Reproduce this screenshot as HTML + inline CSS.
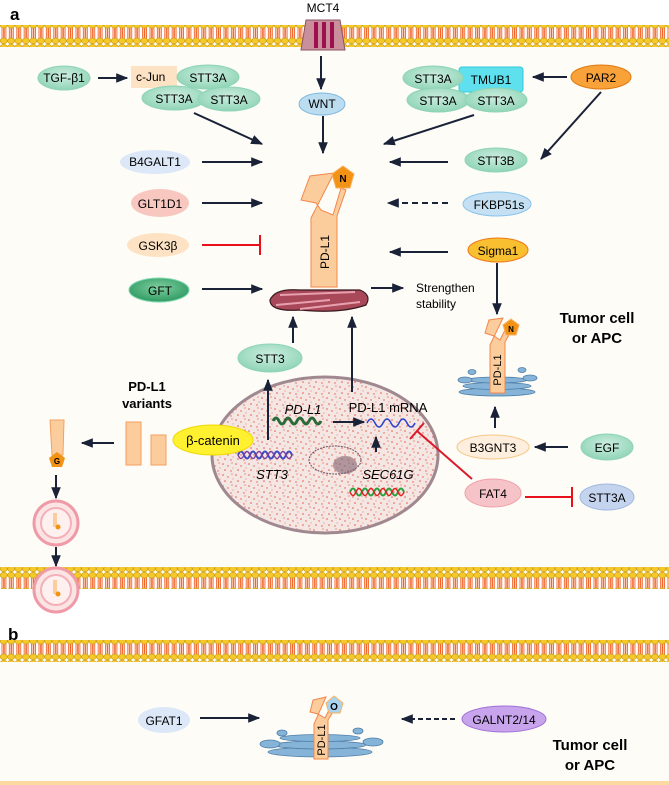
<!DOCTYPE html>
<html><head><meta charset="utf-8"><style>
html,body{margin:0;padding:0;background:#fff}
svg{display:block}
text{font-family:"Liberation Sans",Arial,sans-serif}
</style></head><body>
<svg width="669" height="785" viewBox="0 0 669 785" xmlns="http://www.w3.org/2000/svg">
<defs>
<pattern id="mem" x="0" y="0" width="7.4" height="22" patternUnits="userSpaceOnUse">
<rect x="2" y="5" width="1.6" height="12" rx="0.8" fill="none" stroke="#f0642a" stroke-width="0.9"/>
<rect x="4.3" y="5" width="1.6" height="12" rx="0.8" fill="none" stroke="#f0642a" stroke-width="0.9"/>
<ellipse cx="3.7" cy="3.2" rx="3.5" ry="2.9" fill="#f6c92a" stroke="#c99a10" stroke-width="0.6"/>
<ellipse cx="3.7" cy="18.8" rx="3.5" ry="2.9" fill="#f6c92a" stroke="#c99a10" stroke-width="0.6"/>
</pattern>
<pattern id="spk" x="0" y="0" width="13" height="11" patternUnits="userSpaceOnUse">
<rect width="13" height="11" fill="#f4e6e2"/>
<circle cx="2" cy="2" r="0.8" fill="#e85a4a"/><circle cx="7" cy="4" r="0.7" fill="#e85a4a"/>
<circle cx="11" cy="1" r="0.6" fill="#e85a4a"/><circle cx="4" cy="8" r="0.8" fill="#e85a4a"/>
<circle cx="10" cy="9" r="0.7" fill="#e85a4a"/><circle cx="12" cy="6" r="0.5" fill="#e85a4a"/>
</pattern>
<marker id="ar" viewBox="0 0 10 10" refX="9" refY="5" markerWidth="6" markerHeight="6" orient="auto"><path d="M0,1 L10,5 L0,9 z" fill="#1a2238"/></marker>
<radialGradient id="gg" cx="50%" cy="40%" r="60%"><stop offset="0" stop-color="#cdeee0"/><stop offset="1" stop-color="#8fd4b6"/></radialGradient>
<radialGradient id="gd" cx="50%" cy="40%" r="60%"><stop offset="0" stop-color="#7fcfa0"/><stop offset="1" stop-color="#2f9a62"/></radialGradient>
</defs>
<!-- backgrounds -->
<rect x="0" y="0" width="669" height="785" fill="#fff"/>
<rect x="0" y="40" width="669" height="540" fill="#fdfcf7"/>
<rect x="0" y="655" width="669" height="127" fill="#fdfcf7"/>
<rect x="0" y="781" width="669" height="4" fill="#fbd9a0"/>
<!-- membranes -->
<rect x="0" y="25" width="669" height="22" fill="url(#mem)"/>
<rect x="0" y="567" width="669" height="22" fill="url(#mem)"/>
<rect x="0" y="640" width="669" height="22" fill="url(#mem)"/>
<text x="10" y="20" font-size="17" font-weight="bold">a</text>
<text x="8" y="640" font-size="17" font-weight="bold">b</text>
<!-- MCT4 -->
<text x="323" y="12" font-size="12" text-anchor="middle">MCT4</text>
<path d="M306,20 L340,20 L345,50 L301,50 Z" fill="#c9909c" stroke="#8a5565"/>
<rect x="314" y="22" width="4" height="26" fill="#a01050"/><rect x="322" y="22" width="4" height="26" fill="#a01050"/><rect x="330" y="22" width="4" height="26" fill="#a01050"/>
<line x1="321" y1="56" x2="321" y2="89" stroke="#1a2238" stroke-width="2" marker-end="url(#ar)"/>
<!-- top left cluster -->
<ellipse cx="64" cy="78" rx="26" ry="12" fill="url(#gg)" stroke="#8fd4b6"/>
<text x="64" y="82" font-size="12" text-anchor="middle">TGF-β1</text>
<line x1="98" y1="78" x2="127" y2="78" stroke="#1a2238" stroke-width="2" marker-end="url(#ar)"/>
<rect x="131" y="66" width="46" height="22" fill="#fde2c4"/>
<text x="136" y="81" font-size="12">c-Jun</text>
<ellipse cx="208" cy="77" rx="31" ry="12" fill="url(#gg)" stroke="#8fd4b6"/>
<text x="208" y="82" font-size="12" text-anchor="middle">STT3A</text>
<ellipse cx="174" cy="98" rx="32" ry="12" fill="url(#gg)" stroke="#8fd4b6"/>
<text x="174" y="103" font-size="12" text-anchor="middle">STT3A</text>
<ellipse cx="229" cy="99" rx="31" ry="12" fill="url(#gg)" stroke="#8fd4b6"/>
<text x="229" y="104" font-size="12" text-anchor="middle">STT3A</text>
<ellipse cx="322" cy="104" rx="23" ry="11" fill="#bcdcf0" stroke="#7ab8e0"/>
<text x="322" y="108" font-size="12" text-anchor="middle">WNT</text>
<!-- top right cluster -->
<rect x="459" y="67" width="64" height="25" rx="3" fill="#5ee0ee" stroke="#30c8d8"/>
<text x="491" y="84" font-size="12" text-anchor="middle">TMUB1</text>
<ellipse cx="433" cy="78" rx="30" ry="12" fill="url(#gg)" stroke="#8fd4b6"/>
<text x="433" y="83" font-size="12" text-anchor="middle">STT3A</text>
<ellipse cx="438" cy="100" rx="31" ry="12" fill="url(#gg)" stroke="#8fd4b6"/>
<text x="438" y="105" font-size="12" text-anchor="middle">STT3A</text>
<ellipse cx="496" cy="100" rx="31" ry="12" fill="url(#gg)" stroke="#8fd4b6"/>
<text x="496" y="105" font-size="12" text-anchor="middle">STT3A</text>
<ellipse cx="601" cy="77" rx="30" ry="12" fill="#f9a23a" stroke="#e07a10"/>
<text x="601" y="82" font-size="12" text-anchor="middle">PAR2</text>
<line x1="567" y1="77" x2="533" y2="77" stroke="#1a2238" stroke-width="2" marker-end="url(#ar)"/>
<line x1="601" y1="92" x2="541" y2="159" stroke="#1a2238" stroke-width="2" marker-end="url(#ar)"/>
<line x1="194" y1="113" x2="262" y2="144" stroke="#1a2238" stroke-width="2" marker-end="url(#ar)"/>
<line x1="474" y1="115" x2="384" y2="144" stroke="#1a2238" stroke-width="2" marker-end="url(#ar)"/>
<line x1="323" y1="116" x2="323" y2="153" stroke="#1a2238" stroke-width="2" marker-end="url(#ar)"/>
<!-- left factors -->
<ellipse cx="155" cy="162" rx="35" ry="12" fill="#dce8f8"/>
<text x="155" y="166" font-size="12" text-anchor="middle">B4GALT1</text>
<ellipse cx="160" cy="203" rx="29" ry="14" fill="#f8c8c0"/>
<text x="160" y="208" font-size="12" text-anchor="middle">GLT1D1</text>
<ellipse cx="158" cy="245" rx="31" ry="12" fill="#fde2c4"/>
<text x="158" y="250" font-size="12" text-anchor="middle">GSK3β</text>
<ellipse cx="159" cy="290" rx="30" ry="12" fill="url(#gd)" stroke="#7fd8b0"/>
<text x="160" y="295" font-size="12" text-anchor="middle">GFT</text>
<line x1="202" y1="162" x2="262" y2="162" stroke="#1a2238" stroke-width="2" marker-end="url(#ar)"/>
<line x1="202" y1="203" x2="262" y2="203" stroke="#1a2238" stroke-width="2" marker-end="url(#ar)"/>
<line x1="202" y1="245" x2="260" y2="245" stroke="#e8101a" stroke-width="2"/>
<line x1="260" y1="235" x2="260" y2="255" stroke="#e8101a" stroke-width="2"/>
<line x1="202" y1="289" x2="262" y2="289" stroke="#1a2238" stroke-width="2" marker-end="url(#ar)"/>
<!-- right factors -->
<ellipse cx="496" cy="160" rx="31" ry="12" fill="url(#gg)" stroke="#8fd4b6"/>
<text x="496" y="165" font-size="12" text-anchor="middle">STT3B</text>
<ellipse cx="497" cy="204" rx="34" ry="12" fill="#c4e0f2" stroke="#8ac4ec"/>
<text x="499" y="209" font-size="12" text-anchor="middle">FKBP51s</text>
<ellipse cx="498" cy="250" rx="30" ry="12" fill="#f8c030" stroke="#f07818"/>
<text x="498" y="255" font-size="12" text-anchor="middle">Sigma1</text>
<line x1="448" y1="162" x2="390" y2="162" stroke="#1a2238" stroke-width="2" marker-end="url(#ar)"/>
<line x1="448" y1="203" x2="388" y2="203" stroke="#1a2238" stroke-width="2" stroke-dasharray="6,4" marker-end="url(#ar)"/>
<line x1="448" y1="252" x2="390" y2="252" stroke="#1a2238" stroke-width="2" marker-end="url(#ar)"/>
<!-- central PD-L1 -->
<g>
<path d="M270,300 Q275,288 300,290 L360,290 Q372,295 366,305 Q340,314 300,310 Q270,312 270,300 Z" fill="#a84858" stroke="#3a1a20" stroke-width="1.2"/>
<path d="M280,295 L355,292 M276,305 L330,300 M300,309 L360,302" stroke="#e8a0b0" stroke-width="2" fill="none"/>
<path d="M311,218 L311,287 L337,287 L337,216 L346,190 L341,188 L333,215 L321,210 L316,203 L301,200 L310,176 L334,173 Z" fill="#fbcd9c" stroke="#f4864a" stroke-width="1"/>
<polygon points="343,166 354,174 350,188 336,188 332,174" fill="#f39316" stroke="#f8b060"/>
<text x="343" y="182" font-size="10" font-weight="bold" text-anchor="middle">N</text>
<text transform="translate(329,252) rotate(-90)" font-size="12" text-anchor="middle">PD-L1</text>
</g>
<line x1="371" y1="288" x2="403" y2="288" stroke="#1a2238" stroke-width="2" marker-end="url(#ar)"/>
<text x="416" y="292" font-size="12">Strengthen</text>
<text x="416" y="308" font-size="12">stability</text>
<line x1="497" y1="263" x2="497" y2="314" stroke="#1a2238" stroke-width="2" marker-end="url(#ar)"/>
<text x="597" y="323" font-size="15" font-weight="bold" text-anchor="middle">Tumor cell</text>
<text x="597" y="343" font-size="15" font-weight="bold" text-anchor="middle">or APC</text>
<!-- right PD-L1 with blue ER -->
<g fill="#86b4d8" stroke="#4e7ea8" stroke-width="0.8">
<ellipse cx="497" cy="392" rx="38" ry="4"/><ellipse cx="497" cy="386" rx="34" ry="3.5"/>
<ellipse cx="497" cy="380" rx="30" ry="3"/><ellipse cx="465" cy="380" rx="7" ry="3"/><ellipse cx="530" cy="378" rx="7" ry="3"/>
<ellipse cx="472" cy="372" rx="4" ry="2.5"/><ellipse cx="522" cy="370" rx="4" ry="2.5"/>
</g>
<path d="M490,345 L490,393 L505,393 L505,342 L510,333 L505,330 L500,340 L494,336 L485,333 L489,320 L503,318 Z" fill="#fbcd9c" stroke="#f4864a"/>
<polygon points="511,319 519,325 516,335 506,335 503,325" fill="#f39316" stroke="#f8b060"/>
<text x="511" y="332" font-size="8" font-weight="bold" text-anchor="middle">N</text>
<text transform="translate(501,370) rotate(-90)" font-size="11" text-anchor="middle">PD-L1</text>
<!-- arrows up to golgi -->
<line x1="293" y1="343" x2="293" y2="317" stroke="#1a2238" stroke-width="2" marker-end="url(#ar)"/>
<line x1="352" y1="390" x2="352" y2="317" stroke="#1a2238" stroke-width="2" marker-end="url(#ar)"/>
<ellipse cx="270" cy="358" rx="32" ry="14" fill="url(#gg)" stroke="#8fd4b6"/>
<text x="270" y="363" font-size="12" text-anchor="middle">STT3</text>
<!-- nucleus -->
<ellipse cx="325" cy="455" rx="113" ry="78" fill="url(#spk)" stroke="#a08890" stroke-width="3"/>
<line x1="352" y1="392" x2="352" y2="320" stroke="#1a2238" stroke-width="2"/>
<line x1="268" y1="440" x2="268" y2="380" stroke="#1a2238" stroke-width="2" marker-end="url(#ar)"/>
<text x="303" y="414" font-size="13" font-style="italic" text-anchor="middle">PD-L1</text>
<text x="388" y="412" font-size="13" text-anchor="middle">PD-L1 mRNA</text>
<path d="M273,421 q3,-6 6,0 t6,0 t6,0 t6,0 t6,0 t6,0 t6,0 t6,0" stroke="#2a6a3a" stroke-width="3" fill="none"/>
<line x1="333" y1="422" x2="364" y2="422" stroke="#1a2238" stroke-width="2" marker-end="url(#ar)"/>
<path d="M367,423 q4,-8 8,0 t8,0 t8,0 t8,0 t8,0 t8,0" stroke="#2a40d0" stroke-width="1.5" fill="none"/>
<line x1="376" y1="452" x2="376" y2="437" stroke="#1a2238" stroke-width="2" marker-end="url(#ar)"/>
<path d="M238,455 q3,-7 6,0 t6,0 t6,0 t6,0 t6,0 t6,0 t6,0 t6,0 t6,0" stroke="#3a4ac0" stroke-width="2" fill="none"/>
<path d="M238,455 q3,7 6,0 t6,0 t6,0 t6,0 t6,0 t6,0 t6,0 t6,0 t6,0" stroke="#8040a0" stroke-width="1.5" fill="none"/>
<text x="272" y="479" font-size="13" font-style="italic" text-anchor="middle">STT3</text>
<ellipse cx="335" cy="460" rx="26" ry="14" fill="none" stroke="#6a5060" stroke-width="1" stroke-dasharray="2,1"/>
<ellipse cx="345" cy="465" rx="12" ry="9" fill="#806070" opacity="0.6"/>
<text x="388" y="479" font-size="13" font-style="italic" text-anchor="middle">SEC61G</text>
<path d="M350,492 q3,-7 6,0 t6,0 t6,0 t6,0 t6,0 t6,0 t6,0 t6,0 t6,0" stroke="#28a040" stroke-width="2" fill="none"/>
<path d="M350,492 q3,7 6,0 t6,0 t6,0 t6,0 t6,0 t6,0 t6,0 t6,0 t6,0" stroke="#e02020" stroke-width="1.5" fill="none"/>
<line x1="472" y1="479" x2="417" y2="431" stroke="#d81c2c" stroke-width="2"/>
<line x1="410" y1="439" x2="424" y2="423" stroke="#d81c2c" stroke-width="2"/>
<ellipse cx="213" cy="440" rx="40" ry="15" fill="#fff030" stroke="#f0d800"/>
<text x="213" y="445" font-size="13" text-anchor="middle">β-catenin</text>
<!-- variants -->
<text x="147" y="391" font-size="13" font-weight="bold" text-anchor="middle">PD-L1</text>
<text x="147" y="408" font-size="13" font-weight="bold" text-anchor="middle">variants</text>
<rect x="126" y="422" width="15" height="43" fill="#fbcd9c" stroke="#f4a060"/>
<rect x="151" y="435" width="15" height="30" fill="#fbcd9c" stroke="#f4a060"/>
<line x1="114" y1="443" x2="82" y2="443" stroke="#1a2238" stroke-width="2" marker-end="url(#ar)"/>
<path d="M50,420 L64,420 L63,455 L52,455 Z" fill="#fbcd9c" stroke="#f4a060"/>
<polygon points="57,452 65,458 62,467 52,467 49,458" fill="#f39316"/>
<text x="57" y="464" font-size="8" font-weight="bold" text-anchor="middle">G</text>
<line x1="56" y1="475" x2="56" y2="498" stroke="#1a2238" stroke-width="2" marker-end="url(#ar)"/>
<circle cx="56" cy="523" r="22" fill="#fbe4e4" stroke="#f09aa8" stroke-width="3"/>
<circle cx="56" cy="523" r="15" fill="#fdf0ee" stroke="#f4b0b8" stroke-width="2"/>
<rect x="53" y="513" width="4" height="14" fill="#fbcd9c"/><circle cx="58" cy="527" r="2.5" fill="#f39316"/>
<line x1="56" y1="547" x2="56" y2="566" stroke="#1a2238" stroke-width="2" marker-end="url(#ar)"/>
<circle cx="56" cy="590" r="22" fill="#fbe4e4" stroke="#f09aa8" stroke-width="3"/>
<circle cx="56" cy="590" r="15" fill="#fdf0ee" stroke="#f4b0b8" stroke-width="2"/>
<rect x="53" y="580" width="4" height="14" fill="#fbcd9c"/><circle cx="58" cy="594" r="2.5" fill="#f39316"/>
<!-- right bottom -->
<line x1="495" y1="428" x2="495" y2="407" stroke="#1a2238" stroke-width="2" marker-end="url(#ar)"/>
<ellipse cx="493" cy="447" rx="36" ry="12" fill="#fdeedd" stroke="#f6c88a"/>
<text x="493" y="452" font-size="12" text-anchor="middle">B3GNT3</text>
<ellipse cx="607" cy="447" rx="26" ry="13" fill="url(#gg)" stroke="#8fd4b6"/>
<text x="607" y="452" font-size="12" text-anchor="middle">EGF</text>
<line x1="568" y1="447" x2="535" y2="447" stroke="#1a2238" stroke-width="2" marker-end="url(#ar)"/>
<ellipse cx="493" cy="493" rx="28" ry="14" fill="#f6c4c8" stroke="#f0a0a8"/>
<text x="493" y="498" font-size="12" text-anchor="middle">FAT4</text>
<ellipse cx="607" cy="497" rx="27" ry="13" fill="#c4d4ee" stroke="#a0b8e0"/>
<text x="607" y="502" font-size="12" text-anchor="middle">STT3A</text>
<line x1="525" y1="497" x2="572" y2="497" stroke="#e8101a" stroke-width="2"/>
<line x1="572" y1="487" x2="572" y2="507" stroke="#e8101a" stroke-width="2"/>
<!-- panel b -->
<ellipse cx="164" cy="720" rx="26" ry="13" fill="#dce8f8"/>
<text x="164" y="725" font-size="12" text-anchor="middle">GFAT1</text>
<line x1="200" y1="718" x2="259" y2="718" stroke="#1a2238" stroke-width="2" marker-end="url(#ar)"/>
<ellipse cx="504" cy="719" rx="42" ry="13" fill="#c8a4ec" stroke="#a070d8"/>
<text x="504" y="724" font-size="12" text-anchor="middle">GALNT2/14</text>
<line x1="455" y1="719" x2="402" y2="719" stroke="#1a2238" stroke-width="2" stroke-dasharray="5,3" marker-end="url(#ar)"/>
<g fill="#86b4d8" stroke="#4e7ea8" stroke-width="0.8">
<ellipse cx="320" cy="752" rx="52" ry="5"/><ellipse cx="320" cy="745" rx="46" ry="4"/>
<ellipse cx="320" cy="738" rx="40" ry="3.5"/><ellipse cx="270" cy="744" rx="10" ry="4"/><ellipse cx="373" cy="742" rx="10" ry="4"/>
<ellipse cx="282" cy="733" rx="5" ry="3"/><ellipse cx="358" cy="731" rx="5" ry="3"/>
</g>
<path d="M314,724 L314,759 L328,759 L328,720 L333,712 L329,710 L325,718 L318,714 L310,712 L313,700 L326,697 Z" fill="#fbcd9c" stroke="#f4864a"/>
<polygon points="334,696 343,703 340,713 329,713 326,703" fill="#a8d4f0" stroke="#f8b060"/>
<text x="334" y="710" font-size="10" font-weight="bold" text-anchor="middle">O</text>
<text transform="translate(325,740) rotate(-90)" font-size="11" text-anchor="middle">PD-L1</text>
<text x="590" y="750" font-size="15" font-weight="bold" text-anchor="middle">Tumor cell</text>
<text x="590" y="770" font-size="15" font-weight="bold" text-anchor="middle">or APC</text>
</svg>
</body></html>
